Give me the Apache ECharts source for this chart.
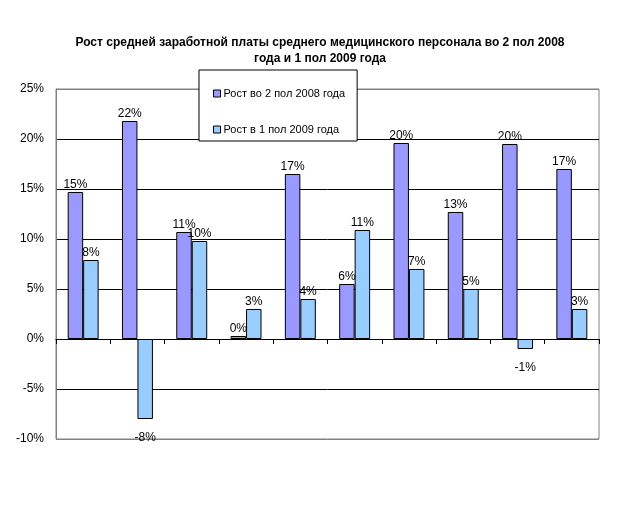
<!DOCTYPE html>
<html>
<head>
<meta charset="utf-8">
<script src="https://cdn.jsdelivr.net/npm/echarts@6/dist/echarts.min.js"></script>
<style>
  html, body { margin: 0; padding: 0; background: #fff; }
  #main { width: 640px; height: 532px; }
</style>
</head>
<body>
<div id="main"></div>
<script>
// категории без подписей (10 групп)
var categories = ['1', '2', '3', '4', '5', '6', '7', '8', '9', '10'];
// рост, %
var growth2008 = [14.7, 21.8, 10.7, 0.3, 16.5, 5.5, 19.6, 12.7, 19.5, 17.0];
var growth2009 = [7.9, -8.0, 9.8, 3.0, 4.0, 10.9, 7.0, 5.0, -1.0, 3.0];
var seriesNames = ['Рост во 2 пол 2008 года', 'Рост в 1 пол 2009 года'];

var font = 'Liberation Sans, Arial, sans-serif';

function pctLabel(p) {
  return Math.round(p.value) + '%';
}

function makeData(arr) {
  // отрицательные подписи — под столбцом
  return arr.map(function (v) {
    if (v < 0) {
      return { value: v, label: { position: 'bottom', distance: 13 } };
    }
    return v;
  });
}

var chart = echarts.init(document.getElementById('main'));
chart.setOption({
  backgroundColor: '#ffffff',
  animation: false,
  title: {
    text: 'Рост средней заработной платы среднего медицинского персонала во 2 пол 2008\nгода и 1 пол 2009 года',
    left: 'center',
    top: 30,
    textStyle: {
      fontFamily: font,
      fontSize: 12,
      fontWeight: 'bold',
      color: '#000',
      lineHeight: 16
    }
  },
  legend: {
    orient: 'vertical',
    left: 199,
    top: 70,
    padding: [18, 12, 6, 14],
    itemGap: 25,
    icon: 'rect',
    itemWidth: 7,
    itemHeight: 7,
    itemStyle: { borderColor: '#000', borderWidth: 1 },
    backgroundColor: '#fff',
    borderColor: '#000',
    borderWidth: 1,
    borderRadius: 0,
    textStyle: { fontFamily: font, fontSize: 11, color: '#000', padding: [5, 0, 0, -2] },
    data: seriesNames
  },
  grid: {
    left: 56,
    right: 41,
    top: 89,
    bottom: 93,
    show: true,
    borderColor: '#808080',
    borderWidth: 1
  },
  xAxis: {
    type: 'category',
    data: categories,
    axisLine: { onZero: true, lineStyle: { color: '#000', width: 1 } },
    axisTick: { show: true, length: 5, lineStyle: { color: '#000' } },
    axisLabel: { show: false },
    splitLine: { show: false }
  },
  yAxis: {
    type: 'value',
    min: -10,
    max: 25,
    interval: 5,
    axisLine: { show: true, lineStyle: { color: '#808080' } },
    axisTick: { show: false },
    axisLabel: {
      formatter: '{value}%',
      fontFamily: font,
      fontSize: 12,
      color: '#000',
      margin: 12
    },
    splitLine: {
      show: true,
      lineStyle: {
        color: ['#808080', '#000', '#000', '#000', '#000', '#000', '#000', '#808080'],
        width: 1
      }
    }
  },
  series: [
    {
      name: seriesNames[0],
      type: 'bar',
      data: makeData(growth2008),
      barGap: '0%',
      barCategoryGap: '43%',
      itemStyle: { color: '#9999FF', borderColor: '#000', borderWidth: 1 },
      label: {
        show: true,
        position: 'top',
        distance: 1,
        formatter: pctLabel,
        fontFamily: font,
        fontSize: 12,
        color: '#000'
      }
    },
    {
      name: seriesNames[1],
      type: 'bar',
      data: makeData(growth2009),
      itemStyle: { color: '#99CCFF', borderColor: '#000', borderWidth: 1 },
      label: {
        show: true,
        position: 'top',
        distance: 1,
        formatter: pctLabel,
        fontFamily: font,
        fontSize: 12,
        color: '#000'
      }
    }
  ]
});
</script>
</body>
</html>
